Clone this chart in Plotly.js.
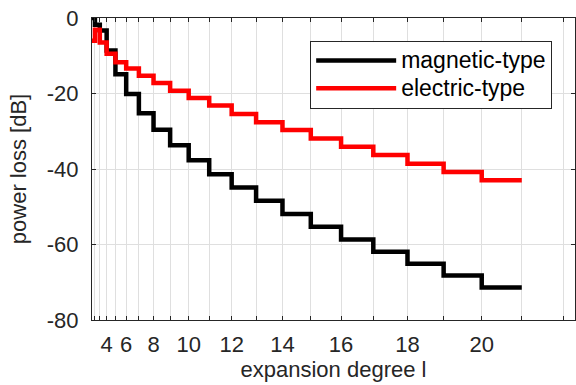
<!DOCTYPE html>
<html>
<head>
<meta charset="utf-8">
<script src="https://cdn.plot.ly/plotly-3.0.1.min.js"></script>
<style>
html,body{margin:0;padding:0;background:#fff;}
#chart{width:576px;height:385px;}
</style>
</head>
<body>
<div id="chart"></div>
<script>
// expansion degree l
const degrees = [1,2,3,4,5,6,7,8,9,10,11,12,13,14,15,16,17,18,19,20,21];
// power loss [dB]
const magneticLoss = [0,-1.8,-3.3,-8.6,-14.9,-20.1,-25.2,-29.6,-33.7,-37.7,-41.4,-44.9,-48.4,-51.9,-55.3,-58.7,-61.9,-65.1,-68.2,-71.4,-71.4];
const electricLoss = [-6.0,-3.1,-6.5,-9.5,-11.7,-13.4,-15.3,-17.2,-19.3,-21.2,-23.2,-25.4,-27.6,-29.7,-31.9,-34.1,-36.3,-38.6,-40.8,-43.0,-43.0];
const seriesNames = ['magnetic-type','electric-type'];
// tick degrees and labels
const tickDegrees = [1,2,3,4,5,6,7,8,9,10,11,12,13,14,15,16,17,18,19,20,21,22];
const labeledDegrees = [4,6,8,10,12,14,16,18,20];
const yTicks = [0,-20,-40,-60,-80];

// the x axis is drawn on a squared-degree scale
const sq = v => v*v;
const FONT = 'Liberation Sans, Arial, Helvetica, sans-serif';
const TXT = '#262626';
const legendName = n => '<span style="font-size:23px">' + n + '</span>';

const traces = [
  {x: degrees.map(sq), y: magneticLoss, name: legendName(seriesNames[0]), mode:'lines',
   line:{color:'#000000', width:4.5, shape:'hv'}},
  {x: degrees.map(sq), y: electricLoss, name: legendName(seriesNames[1]), mode:'lines',
   line:{color:'#ff0000', width:4.5, shape:'hv'}}
];

const layout = {
  width:576, height:385,
  margin:{l:92, r:1, t:18, b:65, pad:0},
  paper_bgcolor:'#ffffff', plot_bgcolor:'#ffffff',
  font:{family:FONT, size:22, color:TXT},
  showlegend:true,
  legend:{x:0.4517, y:0.925, xanchor:'left', yanchor:'top',
    bgcolor:'#ffffff', bordercolor:TXT, borderwidth:1,
    font:{family:FONT, size:19, color:'#000000'}, itemwidth:80, tracegroupgap:0},
  xaxis:{
    range:[1, 495.5],
    tickmode:'array',
    tickvals: tickDegrees.map(sq),
    ticktext: tickDegrees.map(d => labeledDegrees.includes(d) ? String(d) : ''),
    ticks:'inside', ticklen:4, tickcolor:TXT, tickwidth:1,
    showline:true, linecolor:TXT, linewidth:1, mirror:'ticks',
    showgrid:true, gridcolor:'#dfdfdf', gridwidth:1,
    zeroline:false,
    tickfont:{family:FONT, size:22, color:TXT},
    ticklabelstandoff:5,
    title:{text:'expansion degree l', font:{family:FONT, size:22, color:TXT}, standoff:0},
    automargin:false
  },
  yaxis:{
    range:[-80, 0],
    tickmode:'array', tickvals:yTicks, ticktext:yTicks.map(String),
    ticks:'inside', ticklen:4, tickcolor:TXT, tickwidth:1,
    showline:true, linecolor:TXT, linewidth:1, mirror:'ticks',
    showgrid:true, gridcolor:'#dfdfdf', gridwidth:1,
    zeroline:false,
    tickfont:{family:FONT, size:22, color:TXT},
    ticklabelstandoff:8,
    title:{text:'power loss [dB]', font:{family:FONT, size:22, color:TXT}, standoff:14},
    automargin:false
  }
};

Plotly.newPlot('chart', traces, layout, {staticPlot:true, displayModeBar:false});
</script>
</body>
</html>
